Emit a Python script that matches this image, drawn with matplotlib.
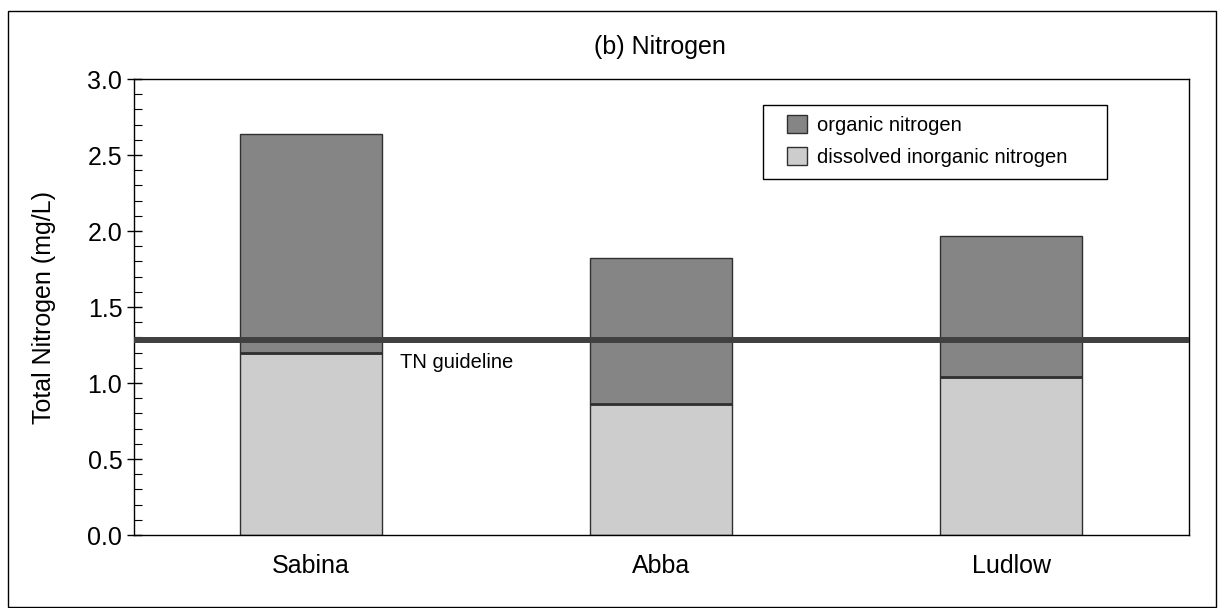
import numpy as np
import matplotlib
matplotlib.use("Agg")
import matplotlib.pyplot as plt
from matplotlib.patches import Rectangle
from matplotlib.ticker import MultipleLocator

plt.rcParams['font.family'] = ['Liberation Sans', 'DejaVu Sans']

# data
sites = ['Sabina', 'Abba', 'Ludlow']
din = [1.20, 0.86, 1.04]          # dissolved inorganic nitrogen
total_n = [2.64, 1.82, 1.97]      # top of each bar
organic = [t - d for t, d in zip(total_n, din)]
tn_guideline = 1.28
yticks = [0.0, 0.5, 1.0, 1.5, 2.0, 2.5, 3.0]

fig = plt.figure(figsize=(12.23, 6.08), dpi=100)
ax = fig.add_axes([0.1096, 0.120, 0.8626, 0.750])

x = np.arange(len(sites))
ax.bar(x, din, width=0.406, color='#cdcdcd', edgecolor='#303030', linewidth=1.0,
       label='dissolved inorganic nitrogen', zorder=2)
ax.bar(x, organic, bottom=din, width=0.406, color='#858585', edgecolor='#303030',
       linewidth=1.0, label='organic nitrogen', zorder=2)
# darker seam where the two parts meet
ax.hlines(din, x - 0.203, x + 0.203, color='#303030', linewidth=2.0, zorder=3)

ax.axhline(tn_guideline, color='#404040', linewidth=4.3, zorder=4)
ax.text(0.255, 1.138, 'TN guideline', fontsize=14.5, ha='left', va='center')

ax.set_xlim(-0.506, 2.508)
ax.set_ylim(0, 3.0)
ax.set_xticks(x)
ax.set_xticklabels(sites, fontsize=18)
ax.tick_params(axis='x', length=0, pad=14)
ax.yaxis.set_minor_locator(MultipleLocator(0.1))
ax.set_yticks(yticks)
ax.set_yticklabels(['%.1f' % v for v in yticks], fontsize=18)
ax.tick_params(axis='y', which='major', direction='inout', length=10.8, width=1, pad=3)
ax.tick_params(axis='y', which='minor', direction='in', length=5.8, width=0.8)
ax.set_ylabel('Total Nitrogen (mg/L)', fontsize=18)
ax.yaxis.set_label_coords(-0.074, 0.5)
for s in ax.spines.values():
    s.set_linewidth(1.0)

# legend frame drawn by hand so the padding matches
ax.add_patch(Rectangle((0.596, 0.781), 0.326, 0.162, transform=ax.transAxes,
                       fill=False, edgecolor='black', linewidth=1.0, zorder=5))
handles, labels = ax.get_legend_handles_labels()
leg = ax.legend(handles[::-1], labels[::-1], loc='upper left',
                bbox_to_anchor=(0.619, 0.921), fontsize=14.5, frameon=False,
                handlelength=1.0, handleheight=1.0, borderpad=0,
                labelspacing=0.6, handletextpad=0.5, borderaxespad=0)

fig.text(0.5396, 0.9227, '(b) Nitrogen', fontsize=18, ha='center', va='center')

# outer frame around the whole figure
fig.patches.append(Rectangle((8 / 1223, 1 - 607 / 608), (1216 - 8) / 1223, (607 - 11) / 608,
                             transform=fig.transFigure, fill=False,
                             edgecolor='black', linewidth=1.0))

fig.savefig('out.png', dpi=100)
